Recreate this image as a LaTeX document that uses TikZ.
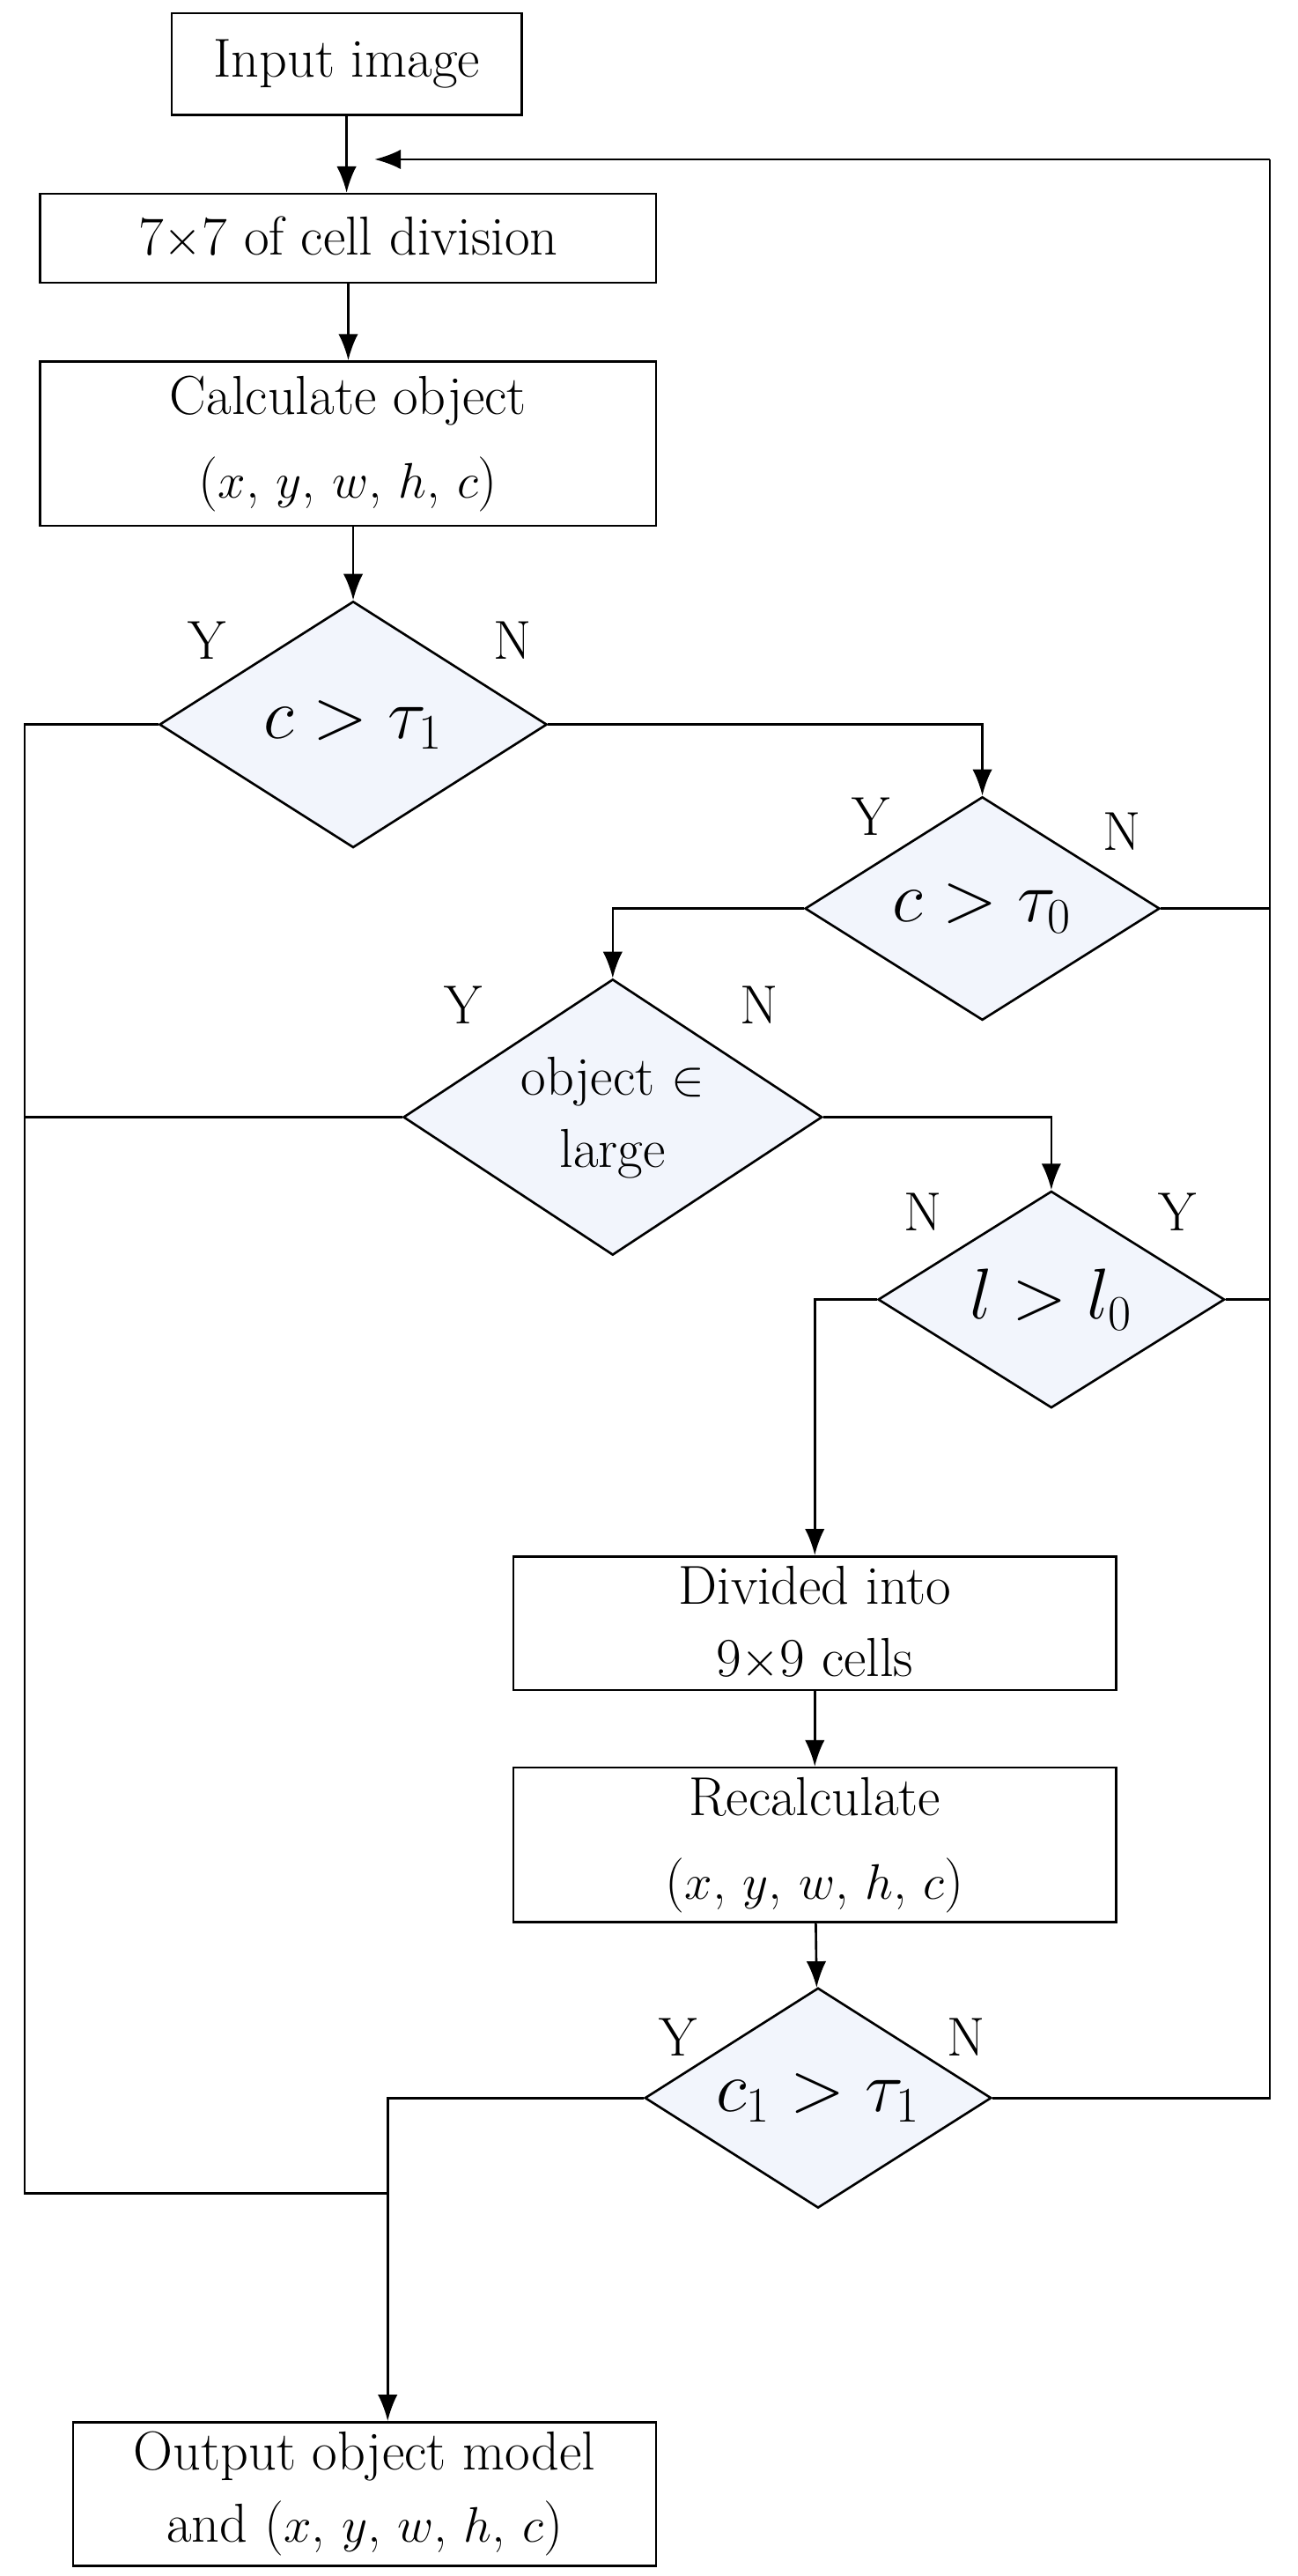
\documentclass[tikz,border=0pt]{standalone}
\usepackage{amsmath}
\usepackage{tikz}
\usetikzlibrary{shapes.geometric,arrows.meta,positioning,calc}

\begin{document}
\begin{tikzpicture}[
    x=0.02cm, y=-0.02cm,
    font=\fontsize{19}{25}\selectfont,
    box/.style={rectangle, draw, line width=0.8pt, align=center},
    decision/.style={diamond, draw, line width=0.8pt, fill={rgb,1:red,0.95;green,0.96;blue,0.99}, inner sep=0pt},
    arrow/.style={-{Latex[length=3.2mm,width=2.4mm]}, line width=0.8pt},
    line/.style={line width=0.8pt},
    yn/.style={font=\fontsize{19}{25}\selectfont}
]
\useasboundingbox (0,0) rectangle (790,1568);

% Boxes
\node[box, minimum width=4.26cm, minimum height=1.24cm] (input) at (211,39) {Input image};
\node[box, minimum width=7.5cm, minimum height=1.08cm] (division) at (212,145) {7$\times$7 of cell division};
\node[box, minimum width=7.5cm, minimum height=2cm] (calc) at (212,270) {Calculate object\\[4pt]($x$, $y$, $w$, $h$, $c$)};
\node[box, minimum width=7.34cm, minimum height=1.62cm] (divided) at (496,988) {Divided into\\9$\times$9 cells};
\node[box, minimum width=7.34cm, minimum height=1.66cm] (recalc) at (496,1123) {Recalculate\\[4pt]($x$, $y$, $w$, $h$, $c$)};
\node[box, minimum width=7.1cm, minimum height=1.68cm] (output) at (222,1518) {Output object model\\and ($x$, $y$, $w$, $h$, $c$)};

% Decisions
\node[decision, minimum width=4.72cm, minimum height=3cm, label=center:{\fontsize{24}{28}\selectfont$c>\tau_1$}] (d1) at (215,441) {};
\node[decision, minimum width=4.32cm, minimum height=2.72cm, label=center:{\fontsize{24}{28}\selectfont$c>\tau_0$}] (d2) at (598,553) {};
\node[decision, minimum width=5.1cm, minimum height=3.36cm, label=center:{\begin{tabular}{c}object $\in$\\large\end{tabular}}] (d3) at (373,680) {};
\node[decision, minimum width=4.22cm, minimum height=2.64cm, label=center:{\fontsize{24}{28}\selectfont$l>l_0$}] (d4) at (640,791) {};
\node[decision, minimum width=4.22cm, minimum height=2.68cm, label=center:{\fontsize{24}{28}\selectfont$c_1>\tau_1$}] (d5) at (498,1277) {};

% Corner points
\coordinate (loopin) at (228,97);
\coordinate (right) at (773,97);
\coordinate (leftbot) at (15,1335);
\coordinate (join) at (236,1335);

% Y / N labels
\node[yn] at (126,390) {Y};
\node[yn] at (312,390) {N};
\node[yn] at (530,497) {Y};
\node[yn] at (683,506) {N};
\node[yn] at (282,612) {Y};
\node[yn] at (462,612) {N};
\node[yn] at (562,738) {N};
\node[yn] at (717,738) {Y};
\node[yn] at (413,1240) {Y};
\node[yn] at (588,1240) {N};

% Main flow
\draw[arrow] (input) -- (input |- division.north);
\draw[arrow] (division) -- (division |- calc.north);
\draw[arrow] (calc.south -| d1) -- (d1.north);
\draw[arrow] (d1.east) -| (d2.north);
\draw[arrow] (d2.west) -| (d3.north);
\draw[arrow] (d3.east) -| (d4.north);
\draw[arrow] (d4.west) -| (divided.north);
\draw[arrow] (divided) -- (recalc);
\draw[arrow] (recalc) -- (d5);

% Feedback loop on the right
\draw[line] (d2.east) -- (d2.east -| right);
\draw[line] (d4.east) -- (d4.east -| right);
\draw[line] (d5.east) -| (right);
\draw[arrow] (right) -- (loopin);

% Yes branches to output
\draw[line] (d1.west) -| (leftbot) -- (join);
\draw[line] (d3.west) -- (d3.west -| leftbot);
\draw[line] (d5.west) -| (join);
\draw[arrow] (join) -- (join |- output.north);

\end{tikzpicture}
\end{document}
